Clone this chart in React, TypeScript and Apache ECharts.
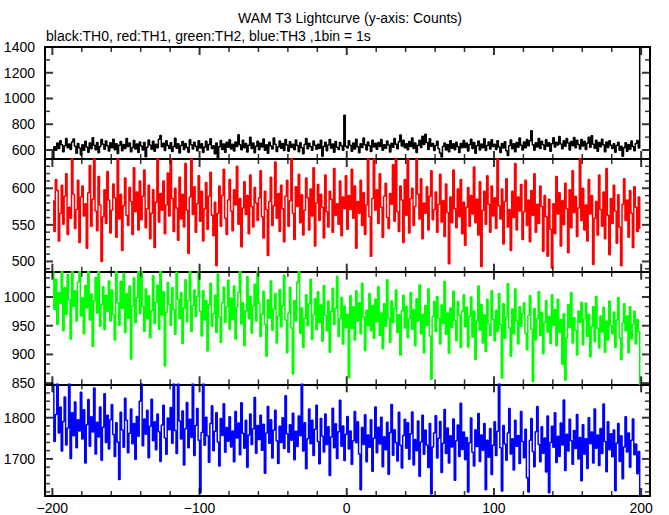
import React, { useEffect, useRef } from "react";
import * as echarts from "echarts";

// TH0 (black) counts per 1 s bin, bins from -200 s to +200 s
const TH0 = [
  450, 626, 598, 655, 612, 671, 640, 587, 633, 690, 618, 647, 603, 662, 685, 629, 574, 651, 615, 562,
  641, 597, 668, 624, 583, 654, 610, 695, 636, 602, 659, 578, 627, 681, 645, 606, 670, 632, 593, 656,
  618, 684, 601, 648, 573, 637, 665, 595, 643, 612, 689, 628, 655, 586, 620, 674, 608, 646, 581, 663,
  631, 600, 659, 548, 622, 677, 639, 605, 668, 590, 644, 617, 683, 712, 626, 653, 596, 672, 634, 611,
  657, 589, 628, 692, 614, 648, 576, 635, 666, 603, 651, 620, 582, 679, 640, 607, 661, 629, 594, 672,
  616, 649, 580, 623, 668, 599, 642, 688, 611, 633, 570, 655, 541, 626, 674, 604, 647, 583, 660, 622,
  680, 608, 645, 593, 663, 627, 718, 640, 601, 676, 617, 650, 585, 636, 698, 612, 655, 579, 629, 667,
  602, 653, 624, 686, 597, 640, 574, 661, 631, 608, 694, 645, 588, 625, 669, 613, 650, 596, 682, 638,
  590, 664, 620, 645, 602, 678, 634, 586, 657, 617, 571, 642, 689, 610, 652, 627, 598, 670, 636, 606,
  644, 611, 675, 552, 628, 660, 595, 639, 682, 614, 647, 583, 666, 621, 603, 658, 632, 597, 870, 630,
  615, 672, 637, 590, 655, 608, 684, 626, 579, 648, 619, 693, 641, 600, 662, 633, 589, 676, 624, 652,
  605, 659, 628, 681, 597, 641, 614, 670, 639, 584, 653, 622, 690, 645, 609, 664, 716, 631, 676, 618,
  649, 601, 666, 627, 693, 612, 654, 581, 637, 675, 620, 706, 642, 722, 658, 604, 687, 629, 650, 596,
  634, 668, 610, 576, 545, 627, 655, 599, 642, 587, 671, 613, 648, 602, 660, 625, 581, 651, 618, 673,
  620, 654, 592, 640, 683, 611, 658, 575, 632, 669, 600, 646, 617, 688, 596, 635, 663, 608, 679, 628,
  645, 603, 671, 624, 580, 650, 615, 664, 595, 558, 633, 677, 609, 648, 586, 658, 622, 694, 637, 600,
  662, 618, 681, 633, 672, 750, 641, 597, 656, 624, 689, 612, 668, 640, 603, 679, 630, 657, 591, 648,
  695, 623, 661, 638, 704, 647, 610, 672, 629, 689, 654, 600, 666, 633, 697, 618, 675, 642, 608, 681,
  631, 667, 604, 652, 698, 622, 711, 645, 613, 676, 591, 659, 625, 684, 640, 587, 663, 619, 671, 636,
  612, 648, 583, 635, 660, 598, 629, 552, 617, 656, 590, 642, 606, 669, 627, 594, 651, 673, 615, 1600,
];

// TH1 (red)
const TH1 = [
  583, 541, 612, 597, 528, 566, 604, 551, 589, 620, 537, 574, 559, 648, 592, 545, 571, 611, 526, 588,
  603, 562, 579, 518, 594, 631, 548, 585, 657, 569, 542, 616, 577, 500, 561, 598, 552, 623, 584, 539,
  570, 606, 587, 533, 645, 558, 592, 515, 576, 614, 563, 549, 601, 582, 537, 628, 568, 595, 543, 610,
  557, 589, 625, 546, 572, 604, 531, 566, 598, 519, 581, 642, 554, 593, 570, 610, 538, 577, 621, 562,
  649, 586, 541, 600, 573, 529, 615, 558, 592, 547, 634, 570, 511, 588, 655, 564, 602, 540, 579, 617,
  555, 596, 528, 572, 608, 544, 589, 622, 563, 535, 581, 494, 566, 603, 548, 590, 626, 559, 537, 584,
  612, 569, 542, 598, 577, 630, 551, 586, 520, 573, 609, 564, 590, 538, 618, 575, 547, 601, 580, 556,
  587, 624, 561, 532, 596, 571, 508, 582, 615, 549, 576, 636, 559, 593, 541, 604, 572, 527, 589, 611,
  548, 583, 650, 566, 530, 602, 575, 619, 553, 591, 536, 570, 614, 587, 543, 599, 562, 628, 521, 580,
  605, 556, 592, 574, 532, 618, 568, 547, 596, 585, 540, 627, 563, 579, 551, 610, 535, 588, 572, 617,
  544, 590, 571, 626, 559, 603, 518, 582, 566, 611, 549, 594, 537, 577, 641, 561, 507, 586, 652, 570,
  598, 552, 620, 574, 533, 589, 607, 560, 545, 593, 578, 632, 555, 648, 568, 541, 603, 584, 526, 612,
  563, 651, 539, 586, 600, 549, 575, 646, 592, 558, 613, 531, 580, 566, 602, 543, 589, 624, 557, 571,
  595, 540, 578, 619, 554, 583, 534, 606, 567, 497, 588, 553, 625, 572, 546, 599, 561, 612, 538, 581,
  522, 574, 601, 548, 590, 565, 629, 553, 585, 536, 609, 493, 570, 596, 551, 617, 578, 540, 603, 562,
  587, 545, 653, 576, 558, 599, 524, 582, 613, 547, 571, 515, 596, 560, 634, 543, 588, 569, 605, 530,
  568, 611, 549, 584, 527, 597, 563, 620, 540, 578, 552, 603, 575, 514, 590, 561, 507, 585, 544, 491,
  579, 538, 616, 565, 594, 521, 583, 550, 607, 572, 512, 598, 546, 624, 567, 589, 534, 573, 655, 556,
  600, 543, 577, 528, 612, 565, 590, 496, 559, 582, 536, 618, 571, 548, 595, 531, 627, 563, 509, 586,
  552, 604, 569, 525, 591, 547, 494, 578, 613, 556, 584, 533, 597, 566, 519, 602, 574, 541, 588, 545,
];

// TH2 (green)
const TH2 = [
  1062, 978, 1031, 952, 1008, 989, 1047, 941, 1016, 970, 1039, 995, 927, 1052, 984, 1011, 958, 1026, 1045, 967,
  999, 936, 1020, 981, 1049, 960, 1005, 914, 993, 1034, 972, 1046, 949, 987, 1018, 943, 1003, 975, 1028, 958,
  1012, 969, 925, 1048, 990, 951, 1027, 980, 1041, 938, 1006, 963, 1019, 892, 984, 1033, 955, 999, 1050, 971,
  1046, 983, 940, 1014, 962, 1002, 929, 976, 1037, 954, 991, 1021, 944, 1049, 968, 1009, 880, 973, 1025, 987,
  951, 1016, 978, 935, 1043, 996, 962, 1008, 919, 981, 1030, 957, 994, 1047, 940, 985, 1012, 966, 1001, 1051,
  975, 932, 1011, 960, 994, 906, 987, 1024, 949, 971, 1003, 938, 1040, 965, 921, 990, 1017, 956, 983, 1029,
  944, 998, 961, 1019, 927, 982, 1008, 1052, 953, 990, 915, 976, 1035, 962, 1001, 937, 984, 1022, 958, 1047,
  989, 931, 970, 1010, 952, 897, 995, 963, 1028, 942, 979, 1006, 920, 967, 1013, 948, 985, 1038, 960, 903,
  972, 1017, 946, 866, 994, 958, 1025, 1050, 937, 981, 912, 963, 1004, 950, 988, 1031, 926, 969, 997, 943,
  1009, 955, 986, 923, 1020, 968, 941, 993, 904, 975, 1015, 952, 980, 1036, 931, 962, 999, 918, 984, 947,
  970, 860, 1002, 945, 983, 925, 1011, 958, 990, 936, 1024, 965, 907, 977, 950, 1006, 941, 985, 928, 996,
  957, 1018, 933, 972, 910, 988, 949, 1030, 964, 921, 993, 955, 980, 1012, 938, 969, 899, 976, 1003, 946,
  984, 929, 962, 1008, 944, 978, 915, 997, 958, 1021, 936, 970, 903, 985, 951, 1014, 932, 857, 966, 992,
  940, 1001, 963, 918, 986, 954, 1027, 935, 972, 902, 981, 947, 1010, 959, 924, 992, 968, 912, 975, 1004,
  948, 982, 913, 966, 1000, 930, 975, 891, 958, 1019, 942, 987, 920, 969, 905, 996, 953, 933, 1011, 961,
  924, 977, 940, 1006, 952, 859, 988, 928, 965, 1023, 946, 897, 979, 936, 1014, 958, 918, 983, 949, 971,
  990, 937, 908, 968, 1002, 944, 853, 980, 925, 962, 1009, 933, 973, 901, 955, 994, 939, 966, 919, 1004,
  951, 978, 915, 996, 938, 961, 883, 971, 855, 928, 987, 947, 1008, 920, 964, 942, 899, 975, 956, 991,
  917, 962, 989, 931, 970, 896, 948, 983, 922, 1001, 945, 911, 967, 939, 982, 904, 958, 925, 993, 950,
  936, 974, 912, 960, 999, 929, 891, 955, 988, 941, 967, 903, 983, 927, 952, 975, 918, 961, 940, 830,
];

// TH3 (blue)
const TH3 = [
  1895, 1742, 1808, 1885, 1763, 1826, 1719, 1791, 1850, 1734, 1775, 1889, 1701, 1812, 1756, 1838, 1727, 1795, 1768, 1862,
  1748, 1819, 1690, 1783, 1844, 1731, 1802, 1765, 1872, 1712, 1789, 1753, 1826, 1697, 1777, 1858, 1740, 1806, 1724, 1795,
  1832, 1759, 1706, 1788, 1741, 1650, 1813, 1770, 1728, 1847, 1794, 1715, 1762, 1821, 1737, 1786, 1699, 1803, 1755, 1840,
  1886, 1732, 1797, 1760, 1818, 1703, 1779, 1845, 1744, 1790, 1722, 1809, 1766, 1694, 1782, 1830, 1751, 1711, 1799, 1771,
  1825, 1738, 1885, 1769, 1713, 1890, 1792, 1748, 1816, 1685, 1773, 1837, 1727, 1796, 1752, 1885, 1708, 1781, 1822, 1745,
  1618, 1764, 1888, 1733, 1801, 1756, 1692, 1786, 1829, 1720, 1767, 1812, 1741, 1683, 1798, 1757, 1834, 1716, 1776, 1743,
  1802, 1729, 1768, 1693, 1815, 1751, 1787, 1710, 1836, 1762, 1726, 1794, 1680, 1758, 1809, 1735, 1773, 1849, 1714, 1781,
  1747, 1806, 1721, 1784, 1665, 1763, 1827, 1738, 1795, 1702, 1770, 1818, 1744, 1689, 1779, 1740, 1800, 1725, 1853, 1761,
  1716, 1783, 1745, 1811, 1698, 1767, 1730, 1804, 1756, 1889, 1719, 1788, 1676, 1749, 1821, 1737, 1794, 1708, 1772, 1830,
  1742, 1688, 1798, 1755, 1717, 1809, 1735, 1778, 1660, 1753, 1823, 1727, 1785, 1701, 1766, 1842, 1731, 1780, 1696, 1760,
  1803, 1724, 1768, 1687, 1744, 1815, 1739, 1790, 1712, 1625, 1776, 1735, 1807, 1693, 1758, 1728, 1795, 1670, 1750, 1826,
  1715, 1777, 1736, 1801, 1681, 1754, 1722, 1789, 1663, 1764, 1832, 1709, 1771, 1740, 1695, 1813, 1733, 1678, 1757, 1796,
  1726, 1788, 1699, 1761, 1814, 1685, 1747, 1720, 1792, 1658, 1741, 1806, 1711, 1770, 1734, 1679, 1786, 1615, 1729, 1763,
  1805, 1702, 1750, 1791, 1667, 1738, 1820, 1713, 1775, 1690, 1756, 1729, 1797, 1648, 1744, 1782, 1706, 1835, 1723, 1765,
  1698, 1752, 1620, 1739, 1799, 1716, 1683, 1771, 1730, 1810, 1694, 1758, 1721, 1786, 1625, 1745, 1704, 1774, 1662, 1733,
  1790, 1708, 1767, 1885, 1727, 1622, 1781, 1736, 1697, 1763, 1822, 1712, 1749, 1673, 1794, 1731, 1757, 1689, 1815, 1742,
  1703, 1772, 1654, 1620, 1745, 1798, 1718, 1681, 1766, 1827, 1735, 1693, 1778, 1714, 1751, 1668, 1804, 1618, 1740, 1779,
  1728, 1812, 1691, 1755, 1706, 1787, 1734, 1843, 1672, 1760, 1719, 1796, 1744, 1687, 1769, 1725, 1808, 1700, 1752, 1647,
  1783, 1711, 1749, 1677, 1800, 1737, 1765, 1690, 1821, 1726, 1758, 1684, 1774, 1713, 1833, 1742, 1669, 1790, 1722, 1761,
  1705, 1770, 1623, 1738, 1786, 1694, 1756, 1652, 1729, 1802, 1717, 1763, 1680, 1745, 1797, 1710, 1736, 1664, 1718, 1590,
];

const BIN_START = -200; // first bin edge (s), 1 bin = 1 s

const X_LABELS = [-200, -100, 0, 100, 200];
const X_MINOR_TICKS = [-180, -160, -140, -120, -80, -60, -40, -20, 20, 40, 60, 80, 120, 140, 160, 180];

const TH0_LABELS = [600, 800, 1000, 1200, 1400];
const TH0_MINOR = [700, 900, 1100, 1300];
const TH1_LABELS = [500, 550, 600];
const TH1_MINOR = [490, 510, 520, 530, 540, 560, 570, 580, 590, 610, 620, 630];
const TH2_LABELS = [850, 900, 950, 1000];
const TH2_MINOR = [866.67, 883.33, 916.67, 933.33, 966.67, 983.33, 1016.67, 1033.33];
const TH3_LABELS = [1700, 1800];
const TH3_MINOR = [1620, 1640, 1660, 1680, 1720, 1740, 1760, 1780, 1820, 1840, 1860, 1880];

const TITLE = "WAM T3 Lightcurve (y-axis: Counts)";
const SUBTITLE = "black:TH0, red:TH1, green:TH2, blue:TH3 ,1bin = 1s";

const PANELS = [
  { values: TH0, color: "#000000", min: 530, max: 1400, labels: TH0_LABELS, minor: TH0_MINOR },
  { values: TH1, color: "#ff0000", min: 486, max: 640, labels: TH1_LABELS, minor: TH1_MINOR },
  { values: TH2, color: "#00ff00", min: 848, max: 1044, labels: TH2_LABELS, minor: TH2_MINOR },
  { values: TH3, color: "#0000ff", min: 1610, max: 1881, labels: TH3_LABELS, minor: TH3_MINOR },
];

const X_MIN = -205;
const X_MAX = 206;
const GRID_EDGES = [47, 159, 271.7, 384.3, 496];
const FONT = "Liberation Sans";

export default function App() {
  const ref = useRef<HTMLDivElement>(null);
  useEffect(() => {
    if (!ref.current) return;
    const chart = echarts.init(ref.current, null, { renderer: "svg" });
    const minus = (v: number) => String(v).replace("-", "\u2212");
    const plain = (v: number) => String(v);
    const frame = { show: true, onZero: false, lineStyle: { color: "#000", width: 2 } };
    const grids: any[] = [];
    const xAxes: any[] = [];
    const yAxes: any[] = [];
    const series: any[] = [];

    const tickSeries = (
      gi: number,
      pts: number[][],
      size: number[],
      offset: number[]
    ) => ({
      type: "scatter",
      xAxisIndex: gi,
      yAxisIndex: gi,
      data: pts,
      symbol: "rect",
      symbolSize: size,
      symbolOffset: offset,
      itemStyle: { color: "#000" },
      clip: false,
      silent: true,
      z: 5,
    });

    PANELS.forEach((p, i) => {
      grids.push({
        left: 45,
        right: 19,
        top: GRID_EDGES[i],
        height: GRID_EDGES[i + 1] - GRID_EDGES[i],
        containLabel: false,
      });
      const isLast = i === PANELS.length - 1;
      xAxes.push({
        type: "value",
        gridIndex: i,
        min: X_MIN,
        max: X_MAX,
        position: "bottom",
        splitLine: { show: false },
        axisLine: frame,
        axisTick: { show: false },
        axisLabel: isLast
          ? { show: true, customValues: X_LABELS, formatter: minus, color: "#000", fontSize: 14, fontFamily: FONT, margin: 5 }
          : { show: false },
      });
      xAxes.push({
        type: "value",
        gridIndex: i,
        min: X_MIN,
        max: X_MAX,
        position: "top",
        splitLine: { show: false },
        axisLine: frame,
        axisTick: { show: false },
        axisLabel: { show: false },
      });
      yAxes.push({
        type: "value",
        gridIndex: i,
        min: p.min,
        max: p.max,
        position: "left",
        splitLine: { show: false },
        axisLine: frame,
        axisTick: { show: false },
        axisLabel: { show: true, customValues: p.labels, formatter: plain, color: "#000", fontSize: 14, fontFamily: FONT, margin: 10 },
      });
      yAxes.push({
        type: "value",
        gridIndex: i,
        min: p.min,
        max: p.max,
        position: "right",
        splitLine: { show: false },
        axisLine: frame,
        axisTick: { show: false },
        axisLabel: { show: false },
      });
      const xi = i * 2;
      const yi = i * 2;

      series.push({
        type: "line",
        xAxisIndex: xi,
        yAxisIndex: yi,
        data: p.values.map((v, k) => [BIN_START + k + 0.5, v]),
        showSymbol: false,
        symbol: "none",
        step: "middle",
        clip: true,
        lineStyle: { color: p.color, width: 1.5 },
        z: 2,
      });

      // axis ticks (inside), placed through the axes' own scales
      series.push(tickSeries(xi, X_MINOR_TICKS.map((v) => [v, p.min]), [1.5, 5], [0, -2.5]));
      series.push(tickSeries(xi, X_LABELS.map((v) => [v, p.min]), [2, 8], [0, -4]));
      series.push(tickSeries(xi, X_MINOR_TICKS.map((v) => [v, p.max]), [1.5, 5], [0, 2.5]));
      series.push(tickSeries(xi, X_LABELS.map((v) => [v, p.max]), [2, 8], [0, 4]));
      series.push(tickSeries(xi, p.minor.map((v) => [X_MIN, v]), [5, 1.5], [2.5, 0]));
      series.push(tickSeries(xi, p.labels.map((v) => [X_MIN, v]), [8, 2], [4, 0]));
      series.push(tickSeries(xi, p.minor.map((v) => [X_MAX, v]), [5, 1.5], [-2.5, 0]));
      series.push(tickSeries(xi, p.labels.map((v) => [X_MAX, v]), [8, 2], [-4, 0]));
    });

    chart.setOption({
      animation: false,
      backgroundColor: "#ffffff",
      grid: grids,
      xAxis: xAxes,
      yAxis: yAxes,
      series,
      graphic: [
        {
          type: "text",
          style: { text: TITLE, x: 350, y: 18, fill: "#000", fontSize: 14, fontFamily: FONT, textAlign: "center", textVerticalAlign: "middle" },
        },
        {
          type: "text",
          style: { text: SUBTITLE, x: 46, y: 36, fill: "#000", fontSize: 14, fontFamily: FONT, textAlign: "left", textVerticalAlign: "middle" },
        },
      ],
    });
    return () => chart.dispose();
  }, []);
  return (
    <div
      ref={ref}
      style={{ position: "fixed", left: 0, top: 0, width: 669, height: 515, background: "#fff" }}
    />
  );
}
